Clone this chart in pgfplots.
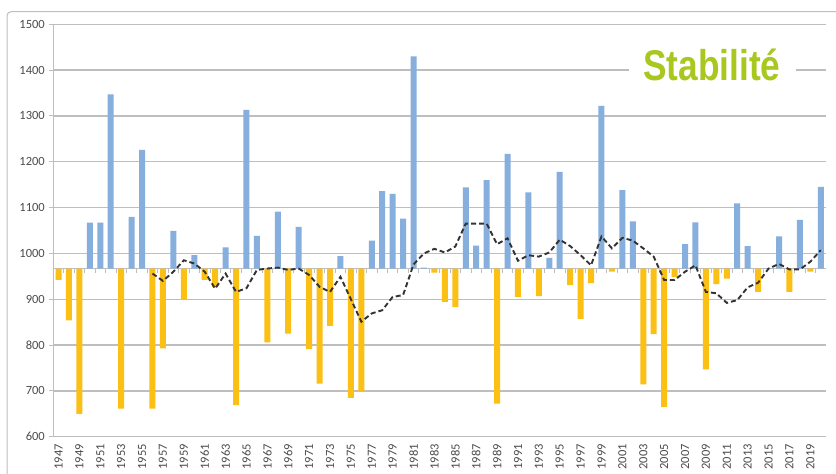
\documentclass[border=0pt]{standalone}
\usepackage{fontspec}
\setmainfont{Carlito}
\newfontfamily\stabfont{Liberation Sans}
\usepackage{graphicx}
\usepackage{pgfplots}
\pgfplotsset{compat=1.18}
\definecolor{barblue}{RGB}{135,175,222}
\definecolor{baryellow}{RGB}{252,192,20}
\definecolor{gridgray}{RGB}{190,190,190}
\definecolor{labgray}{RGB}{75,75,75}
\definecolor{stabgreen}{RGB}{168,200,32}
\begin{document}
\begin{tikzpicture}[x=1pt,y=1pt]
\useasboundingbox (0,0) rectangle (836,474);
\clip (0,0) rectangle (836,474);
\fill[white] (0,0) rectangle (836,474);
\draw[gridgray, line width=1pt, rounded corners=4pt] (7,462.3) rectangle (860,-20);
\begin{axis}[
  at={(53.3pt,37.3pt)}, anchor=south west,
  scale only axis, width=772.7pt, height=412.4pt,
  xmin=-0.5, xmax=73.5, ymin=600, ymax=1500,
  y coord trafo/.code={\pgfmathparse{#1-967}},
  y coord inv trafo/.code={\pgfmathparse{#1+967}},
  ytick={600,700,800,900,1000,1100,1200,1300,1400,1500},
  yticklabels={600,700,800,900,1000,1100,1200,1300,1400,1500},
  xtick={0,2,4,6,8,10,12,14,16,18,20,22,24,26,28,30,32,34,36,38,40,42,44,46,48,50,52,54,56,58,60,62,64,66,68,70,72},
  xticklabels={1947,1949,1951,1953,1955,1957,1959,1961,1963,1965,1967,1969,1971,1973,1975,1977,1979,1981,1983,1985,1987,1989,1991,1993,1995,1997,1999,2001,2003,2005,2007,2009,2011,2013,2015,2017,2019},
  ymajorgrids, grid style={gridgray, line width=1.3pt},
  axis x line*=bottom, axis y line*=left,
  x axis line style={draw=none},
  y axis line style={gridgray, line width=1pt},
  x tick style={draw=none},
  y tick style={gridgray, line width=1pt},
  tick align=outside, major tick length=4pt,
  tick label style={font=\fontsize{12.5}{12.5}\selectfont, text=labgray},
  x tick label style={rotate=90, anchor=east, yshift=0pt},
  yticklabel style={xshift=-1pt},
  /pgf/number format/assume math mode=true,
  clip=false,
]
\draw[gridgray, line width=1pt] (axis cs:-0.5,967) -- (axis cs:73.5,967);
\pgfplotsinvokeforeach{0,...,72}{\draw[gridgray, line width=0.8pt] (axis cs:#1.5,967) -- ++(0pt,-4pt);}
\addplot[ybar, bar width=6pt, bar shift=0pt, fill=barblue, draw=none] coordinates {
(3,1067) (4,1067) (5,1347) (7,1080) (8,1226) (11,1049) (13,996) (16,1013)
(18,1313) (19,1038) (21,1091) (23,1058) (27,994) (30,1028) (31,1136) (32,1130)
(33,1076) (34,1430) (35,969) (39,1144) (40,1017) (41,1160) (43,1217) (45,1133)
(47,990) (48,1178) (52,1322) (54,1138) (55,1070) (60,1020) (61,1068) (65,1109)
(66,1016) (68,968) (69,1037) (71,1073) (73,1145)
};
\addplot[ybar, bar width=6pt, bar shift=0pt, fill=baryellow, draw=none] coordinates {
(0,942) (1,854) (2,650) (6,661) (9,661) (10,793) (12,901) (14,942) (15,927)
(17,669) (20,806) (22,825) (24,791) (25,716) (26,842) (28,685) (29,700)
(36,958) (37,894) (38,883) (42,672) (44,905) (46,907) (49,931) (50,857)
(51,935) (53,960) (56,714) (57,824) (58,665) (59,949) (62,747) (63,933)
(64,945) (67,916) (70,916) (72,960)
};
\addplot[black!80, line width=1.9pt, dash pattern=on 5pt off 3pt, mark=none] coordinates {
(9,956) (10,940) (11,960) (12,985) (13,978) (14,960) (15,923) (16,956) (17,916)
(18,924) (19,964) (20,967) (21,969) (22,964) (23,967) (24,953) (25,927) (26,916)
(27,949) (28,900) (29,851) (30,869) (31,876) (32,905) (33,909) (34,976) (35,1000)
(36,1010) (37,1002) (38,1015) (39,1065) (40,1065) (41,1065) (42,1020) (43,1033)
(44,984) (45,996) (46,993) (47,1002) (48,1030) (49,1016) (50,996) (51,974)
(52,1037) (53,1011) (54,1034) (55,1028) (56,1011) (57,993) (58,942) (59,942)
(60,960) (61,974) (62,916) (63,913) (64,892) (65,898) (66,926) (67,936)
(68,967) (69,977) (70,965) (71,965) (72,982) (73,1007)
};
\end{axis}
\node[fill=white, inner sep=0pt, minimum width=167pt, minimum height=40pt, text=stabgreen] at (712,409) {\scalebox{0.82}[1]{\stabfont\bfseries\fontsize{43}{43}\selectfont Stabilité}};
\end{tikzpicture}
\end{document}
